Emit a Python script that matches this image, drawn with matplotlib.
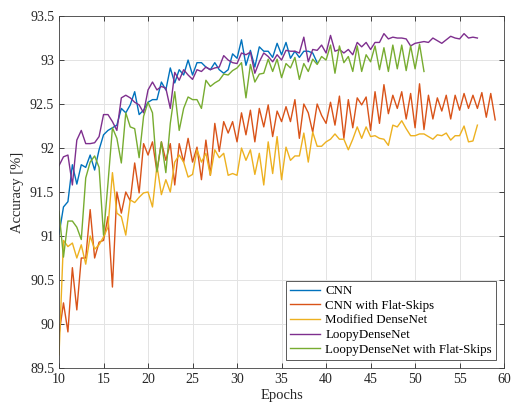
import numpy as np
import matplotlib
matplotlib.use("Agg")
import matplotlib.pyplot as plt
from matplotlib.ticker import FuncFormatter

# accuracy [%] per half epoch, starting at epoch 10
cnn = [91.02, 91.33, 91.39, 91.81, 91.59, 91.81, 91.78, 91.92, 91.75, 91.98,
       92.15, 92.20, 92.23, 92.26, 92.45, 92.40, 92.49, 92.64, 92.38, 92.43,
       92.52, 92.55, 92.55, 92.75, 92.66, 92.91, 92.74, 92.89, 92.83, 93.00,
       92.83, 92.97, 92.97, 92.92, 92.89, 92.97, 92.89, 92.85, 92.89, 93.07,
       93.02, 93.23, 92.94, 93.11, 92.92, 93.15, 93.10, 93.10, 93.03, 93.19,
       93.06, 93.20, 93.02, 93.10, 93.03, 93.10, 93.10, 93.08, 92.97]

cnn_flat = [89.88, 90.24, 89.91, 90.64, 90.16, 90.75, 90.75, 91.30, 90.75, 90.93,
            90.95, 91.22, 90.42, 91.50, 91.26, 91.50, 91.40, 91.83, 91.49, 92.05,
            91.92, 92.07, 91.73, 92.07, 91.86, 92.05, 91.58, 92.05, 91.84, 92.11,
            91.84, 92.01, 91.64, 92.09, 91.69, 92.28, 91.96, 92.30, 92.17, 92.30,
            92.07, 92.40, 92.15, 92.43, 92.07, 92.45, 92.24, 92.49, 92.13, 92.42,
            92.30, 92.47, 92.30, 92.55, 92.11, 92.50, 92.40, 92.18, 92.50, 92.37,
            92.28, 92.52, 92.26, 92.59, 92.11, 92.55, 92.23, 92.57, 92.49, 92.58,
            92.20, 92.64, 92.28, 92.72, 92.39, 92.60, 92.45, 92.64, 92.33, 92.62,
            92.23, 92.73, 92.21, 92.60, 92.33, 92.57, 92.42, 92.60, 92.33, 92.60,
            92.43, 92.62, 92.45, 92.60, 92.45, 92.63, 92.35, 92.62, 92.32]

mod_dense = [89.65, 90.95, 90.88, 90.92, 90.75, 90.90, 90.68, 91.00, 90.85, 90.90,
             90.99, 91.10, 91.72, 91.26, 91.22, 91.01, 91.41, 91.38, 91.44, 91.49,
             91.50, 91.33, 91.80, 91.47, 91.64, 91.50, 91.84, 91.92, 91.84, 91.67,
             91.70, 91.98, 91.84, 91.94, 91.69, 91.98, 91.89, 91.94, 91.69, 91.71,
             91.69, 92.00, 91.86, 91.98, 91.70, 91.94, 91.58, 92.07, 91.71, 92.13,
             91.64, 92.01, 91.86, 91.91, 91.91, 92.17, 91.84, 92.18, 92.02, 92.02,
             92.07, 92.10, 92.16, 92.10, 92.10, 91.98, 92.10, 92.24, 92.11, 92.24,
             92.13, 92.14, 92.11, 92.10, 92.03, 92.26, 92.24, 92.31, 92.22, 92.14,
             92.14, 92.16, 92.16, 92.13, 92.10, 92.15, 92.14, 92.17, 92.09, 92.14,
             92.14, 92.25, 92.07, 92.08, 92.26]

loopy = [91.80, 91.90, 91.92, 91.58, 92.09, 92.20, 92.05, 92.05, 92.06, 92.13,
         92.38, 92.38, 92.30, 92.20, 92.57, 92.60, 92.57, 92.52, 92.49, 92.40,
         92.66, 92.75, 92.66, 92.70, 92.68, 92.45, 92.86, 92.77, 92.89, 92.83,
         92.78, 92.89, 92.87, 92.92, 92.89, 92.91, 92.92, 93.05, 93.00, 92.97,
         92.96, 93.08, 93.06, 93.09, 92.85, 92.98, 93.08, 93.04, 92.98, 93.06,
         93.00, 93.11, 93.10, 93.10, 93.08, 93.26, 92.98, 93.12, 93.11, 93.17,
         93.08, 93.28, 93.10, 93.12, 93.08, 93.12, 93.06, 93.20, 93.15, 93.20,
         93.12, 93.20, 93.20, 93.30, 93.24, 93.26, 93.25, 93.25, 93.24, 93.16,
         93.19, 93.20, 93.21, 93.20, 93.25, 93.22, 93.19, 93.23, 93.27, 93.25,
         93.24, 93.30, 93.25, 93.26, 93.25]

loopy_flat = [91.28, 90.76, 91.17, 91.17, 91.10, 90.96, 91.66, 91.84, 91.91, 91.78,
              91.01, 91.60, 92.23, 92.11, 91.83, 92.40, 92.24, 92.22, 91.89, 92.36,
              92.52, 92.40, 91.73, 92.07, 91.72, 92.28, 92.64, 92.20, 92.45, 92.58,
              92.55, 92.55, 92.45, 92.77, 92.70, 92.74, 92.77, 92.84, 92.83, 92.88,
              92.91, 92.97, 92.57, 92.95, 92.75, 92.84, 92.85, 93.01, 92.87, 93.01,
              92.80, 92.96, 92.91, 93.03, 92.78, 92.96, 92.87, 93.01, 92.95, 93.04,
              93.00, 93.17, 92.85, 93.16, 92.97, 93.04, 92.87, 93.16, 92.87, 93.06,
              92.98, 93.16, 92.89, 93.14, 92.87, 93.17, 92.90, 93.17, 92.88, 93.16,
              92.90, 93.18, 92.87]

names = ["CNN", "CNN with Flat-Skips", "Modified DenseNet", "LoopyDenseNet",
         "LoopyDenseNet with Flat-Skips"]
colors = ["#0072BD", "#D95319", "#EDB120", "#7E2F8E", "#77AC30"]

plt.rcParams['font.family'] = ['Liberation Serif', 'DejaVu Serif']

fig = plt.figure(figsize=(5.11, 4.05), dpi=100)
ax = fig.add_axes([0.1155, 0.0914, 0.871, 0.869])

for vals, name, c in zip([cnn, cnn_flat, mod_dense, loopy, loopy_flat], names, colors):
    ep = 10 + 0.5 * np.arange(len(vals))
    ax.plot(ep, vals, color=c, lw=1.0, label=name)

ax.set_xlim(10, 60)
ax.set_ylim(89.5, 93.5)
ax.set_xticks(np.arange(10, 61, 5))
ax.set_yticks(np.arange(89.5, 93.51, 0.5))
ax.yaxis.set_major_formatter(FuncFormatter(lambda v, p: "%g" % v))
ax.tick_params(direction='in', top=True, right=True, length=3.5, width=0.6,
               labelsize=10, colors='#262626')
ax.grid(True, color='#e3e3e3', lw=0.7)
ax.set_axisbelow(True)
for s in ax.spines.values():
    s.set_color('#404040')
    s.set_linewidth(0.6)

ax.set_xlabel("Epochs", fontsize=10.5, color='#262626', labelpad=2)
ax.set_ylabel("Accuracy [%]", fontsize=10.5, color='#262626', labelpad=4)

leg = ax.legend(loc='lower right', fontsize=9.3, handlelength=2.3,
                handletextpad=0.4, labelspacing=0.2, borderpad=0.35,
                fancybox=False, framealpha=1, edgecolor='#404040',
                borderaxespad=0.6)
leg.get_frame().set_linewidth(0.6)

fig.savefig("out.png", dpi=100)
